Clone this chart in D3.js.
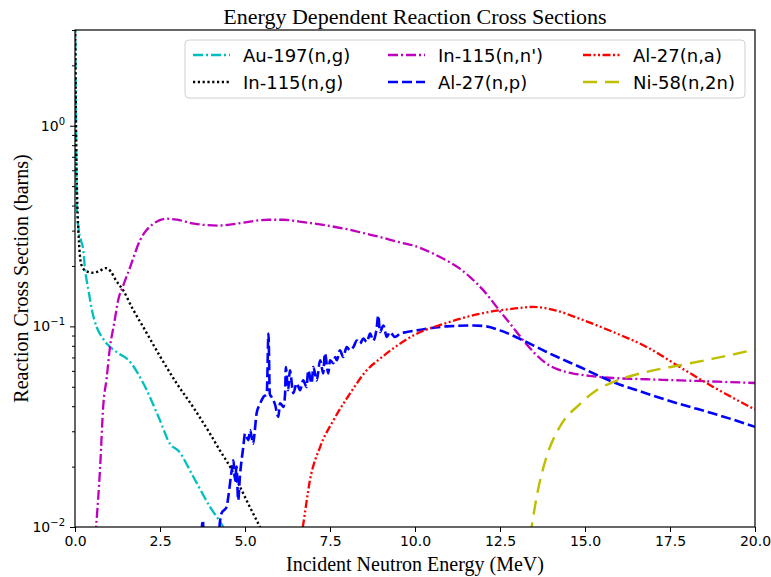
<!DOCTYPE html>
<html>
<head>
<meta charset="utf-8">
<script src="https://cdn.jsdelivr.net/npm/d3@7"></script>
<style>
  body { margin: 0; background: #fff; }
  svg { display: block; }
</style>
</head>
<body>
<svg></svg>
<script>
// Energy (MeV) / cross section (barns) pairs
const au197ng = [
  [0.005, 4.0], [0.015, 2.0], [0.03, 1.0], [0.05, 0.4], [0.1, 0.31], [0.17, 0.27],
  [0.245, 0.239], [0.29, 0.197], [0.4, 0.15], [0.5, 0.12], [0.64, 0.099], [0.8, 0.088],
  [1.03, 0.079], [1.3, 0.073], [1.57, 0.068], [1.96, 0.054], [2.5, 0.034], [2.79, 0.026],
  [3.04, 0.024], [3.48, 0.0178], [3.97, 0.0126], [4.36, 0.01], [4.5, 0.009]
];
const in115ng = [
  [0.005, 4.0], [0.02, 1.5], [0.04, 0.7], [0.07, 0.4], [0.1, 0.3], [0.14, 0.23],
  [0.2, 0.2], [0.3, 0.19], [0.5, 0.185], [0.7, 0.188], [0.9, 0.195], [1.05, 0.188],
  [1.2, 0.17], [1.42, 0.151], [1.7, 0.122], [2.01, 0.099], [2.5, 0.071], [2.99, 0.052],
  [3.5, 0.039], [3.97, 0.0292], [4.3, 0.0235], [4.56, 0.02], [4.85, 0.0159],
  [5.15, 0.0125], [5.44, 0.01], [5.6, 0.0088]
];
const in115nn = [
  [0.5, 0.006], [0.62, 0.01], [0.74, 0.02], [0.83, 0.04], [0.93, 0.055], [1.03, 0.079],
  [1.15, 0.103], [1.27, 0.135], [1.42, 0.16], [1.62, 0.197], [1.91, 0.268], [2.3, 0.324],
  [2.7, 0.344], [3.0, 0.34], [3.5, 0.325], [4.2, 0.318], [4.6, 0.322], [5.15, 0.333],
  [5.7, 0.34], [6.13, 0.34], [6.6, 0.333], [7.1, 0.324], [8.0, 0.305], [8.58, 0.289],
  [9.0, 0.278], [9.56, 0.262], [9.95, 0.253], [10.5, 0.232], [10.93, 0.213], [11.3, 0.195],
  [11.62, 0.176], [12.0, 0.152], [12.25, 0.135], [12.4, 0.125], [12.8, 0.103],
  [13.19, 0.085], [13.5, 0.074], [13.87, 0.0652], [14.2, 0.061], [14.66, 0.0582],
  [15.2, 0.0565], [15.83, 0.0553], [16.8, 0.0545], [17.79, 0.0538], [18.9, 0.053], [20, 0.0522]
];
const al27np = [
  [3.7, 0.008], [3.76, 0.0108], [3.8, 0.008], [4.2, 0.008], [4.26, 0.0105], [4.31, 0.0117],
  [4.46, 0.0126], [4.51, 0.0142], [4.61, 0.0192], [4.66, 0.0215], [4.71, 0.017], [4.75, 0.02],
  [4.8, 0.0136], [4.85, 0.0178], [4.95, 0.0251], [5.0, 0.0292], [5.1, 0.0271], [5.15, 0.0304],
  [5.24, 0.026], [5.29, 0.0304], [5.34, 0.0368], [5.44, 0.041], [5.54, 0.0445], [5.64, 0.046],
  [5.69, 0.092], [5.73, 0.046], [5.78, 0.0445], [5.88, 0.041], [5.98, 0.0354], [6.03, 0.0414],
  [6.13, 0.0397], [6.18, 0.0465], [6.2, 0.0627], [6.27, 0.0481], [6.32, 0.0604], [6.42, 0.0465],
  [6.52, 0.052], [6.62, 0.0481], [6.71, 0.0538], [6.81, 0.0499], [6.86, 0.0604], [6.96, 0.052],
  [7.01, 0.0627], [7.11, 0.0538], [7.21, 0.0678], [7.3, 0.0583], [7.35, 0.0734], [7.45, 0.0583],
  [7.5, 0.0678], [7.6, 0.0655], [7.65, 0.0704], [7.7, 0.0678], [7.79, 0.076], [7.89, 0.0704],
  [7.99, 0.0789], [8.09, 0.076], [8.19, 0.0789], [8.29, 0.085], [8.38, 0.082], [8.48, 0.0869],
  [8.58, 0.0836], [8.68, 0.092], [8.77, 0.085], [8.87, 0.0974], [8.92, 0.1135], [8.97, 0.0937],
  [9.07, 0.101], [9.17, 0.0885], [9.26, 0.0937], [9.41, 0.0885], [9.56, 0.092], [9.76, 0.0937],
  [10.05, 0.0955], [10.93, 0.1], [11.72, 0.101], [12.1, 0.1], [12.5, 0.0955], [13.19, 0.085],
  [13.87, 0.0745], [14.85, 0.0627], [15.83, 0.0528], [16.81, 0.0463], [17.79, 0.041],
  [18.77, 0.0368], [20, 0.0316]
];
const al27na = [
  [6.6, 0.008], [6.7, 0.01], [6.91, 0.0171], [7.21, 0.0251], [7.6, 0.034], [8.09, 0.0463],
  [8.58, 0.0604], [8.97, 0.069], [9.56, 0.082], [9.95, 0.09], [10.93, 0.104], [11.91, 0.1156],
  [12.89, 0.1225], [13.48, 0.125], [14.07, 0.121], [14.85, 0.109], [15.83, 0.0937],
  [16.81, 0.079], [17.79, 0.0627], [18.77, 0.0499], [20, 0.0385]
];
const ni58n2n = [
  [13.3, 0.007], [13.43, 0.01], [13.58, 0.0142], [13.87, 0.0224], [14.26, 0.0316],
  [14.85, 0.041], [15.34, 0.0481], [15.83, 0.0528], [16.81, 0.0593], [17.79, 0.064],
  [18.77, 0.069], [20, 0.0766]
];

const seriesNames = ["Au-197(n,g)", "In-115(n,g)", "In-115(n,n')", "Al-27(n,p)", "Al-27(n,a)", "Ni-58(n,2n)"];
const seriesData = [au197ng, in115ng, in115nn, al27np, al27na, ni58n2n];
const xTicks = [0, 2.5, 5, 7.5, 10, 12.5, 15, 17.5, 20];
const yTicks = [0.01, 0.1, 1];

const colors = ["#00bfbf", "#000000", "#bf00bf", "#0000ff", "#ff0000", "#bfbf00"];
const dashes = ["10,3,2,3", "2.2,2.6", "10,3,2,3", "10,4", "8,2.5,2,2.5,2,2.5", "14,8"];
const widths = [2.3, 2.4, 2.3, 2.6, 2.3, 2.4];

const W = 771, H = 577;
const margin = {top: 30, right: 16, bottom: 50, left: 75};
const width = W - margin.left - margin.right;
const height = H - margin.top - margin.bottom;

const svg = d3.select("svg").attr("width", W).attr("height", H);

const x = d3.scaleLinear().domain([0, 20]).range([0, width]);
const y = d3.scaleLog().domain([0.01, 3]).range([height, 0]);

svg.append("defs").append("clipPath").attr("id", "clip")
   .append("rect").attr("width", width).attr("height", height);

const g = svg.append("g").attr("transform", `translate(${margin.left},${margin.top})`);

// lines
const line = d3.line()
               .x(d => x(d[0]))
               .y(d => y(d[1]))
               .curve(d3.curveMonotoneX);

const plot = g.append("g").attr("clip-path", "url(#clip)");
seriesData.forEach((s, i) => {
    plot.append("path")
        .datum(s)
        .attr("fill", "none")
        .attr("stroke", colors[i])
        .attr("stroke-width", widths[i])
        .attr("stroke-dasharray", dashes[i])
        .attr("d", line);
});

// frame
g.append("rect")
 .attr("width", width).attr("height", height)
 .attr("fill", "none").attr("stroke", "#000").attr("stroke-width", 1.2);

// x axis
const xAxis = g.append("g")
               .attr("transform", `translate(0,${height})`)
               .call(d3.axisBottom(x).tickValues(xTicks).tickFormat(d3.format(".1f")).tickSize(5).tickPadding(4));
xAxis.select(".domain").remove();
xAxis.selectAll("text").attr("font-family", "DejaVu Sans").attr("font-size", 14).attr("fill", "#000");

// y axis, minor ticks first
const minor = [];
[0.01, 0.1, 1].forEach(b => { for (let k = 2; k <= 9; k++) if (b * k <= 3) minor.push(b * k); });
const yMinor = g.append("g").call(d3.axisLeft(y).tickValues(minor).tickFormat("").tickSize(3));
yMinor.select(".domain").remove();

const yAxis = g.append("g").call(d3.axisLeft(y).tickValues(yTicks).tickSize(5).tickPadding(5));
yAxis.select(".domain").remove();
yAxis.selectAll("text")
     .attr("font-family", "DejaVu Sans").attr("font-size", 14).attr("fill", "#000")
     .text(null)
     .each(function(d) {
         const t = d3.select(this);
         t.append("tspan").text("10");
         t.append("tspan").attr("dy", -6).attr("font-size", 10).text(String(Math.round(Math.log10(d))).replace("-", "\u2212"));
     });

// title and axis labels
svg.append("text")
   .attr("x", margin.left + width / 2).attr("y", 24)
   .attr("text-anchor", "middle")
   .attr("font-family", "Liberation Serif").attr("font-size", 22)
   .text("Energy Dependent Reaction Cross Sections");

svg.append("text")
   .attr("x", margin.left + width / 2).attr("y", 571)
   .attr("text-anchor", "middle")
   .attr("font-family", "Liberation Serif").attr("font-size", 20)
   .text("Incident Neutron Energy (MeV)");

svg.append("text")
   .attr("transform", `translate(28,${margin.top + height / 2}) rotate(-90)`)
   .attr("text-anchor", "middle")
   .attr("font-family", "Liberation Serif").attr("font-size", 20)
   .text("Reaction Cross Section (barns)");

// legend, 3 columns filled column-wise
const legend = svg.append("g").attr("transform", "translate(185,40)");
legend.append("rect")
      .attr("width", 560).attr("height", 58).attr("rx", 4)
      .attr("fill", "#fff").attr("fill-opacity", 0.8)
      .attr("stroke", "#d0d0d0").attr("stroke-width", 1);

seriesNames.forEach((name, i) => {
    const col = Math.floor(i / 2), row = i % 2;
    const item = legend.append("g").attr("transform", `translate(${8 + col * 195},${15 + row * 27})`);
    item.append("line")
        .attr("x1", 0).attr("x2", 37).attr("y1", 0).attr("y2", 0)
        .attr("stroke", colors[i])
        .attr("stroke-width", widths[i])
        .attr("stroke-dasharray", dashes[i]);
    item.append("text")
        .attr("x", 50).attr("y", 6.5)
        .attr("font-family", "DejaVu Sans").attr("font-size", 18)
        .text(name);
});
</script>
</body>
</html>
